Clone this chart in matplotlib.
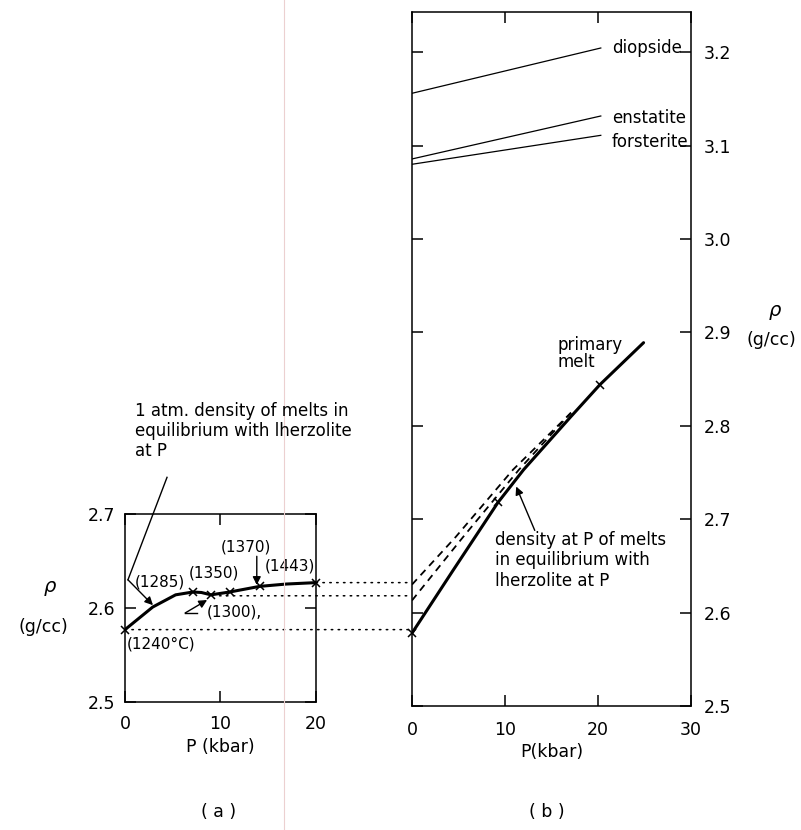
import matplotlib
matplotlib.use('Agg')
import matplotlib.pyplot as plt
from matplotlib.patches import ConnectionPatch
from matplotlib.lines import Line2D
from matplotlib.transforms import blended_transform_factory

plt.rcParams['font.family'] = 'DejaVu Sans'
plt.rcParams['font.size'] = 12

###############################################################
# data
###############################################################
# (a) 1 atm. density of melts in equilibrium with lherzolite at P
p_atm = [0, 2.9, 5.3, 7.1, 8.0, 9.0, 10.95, 14.1, 16.9, 20.0]
rho_atm = [2.577, 2.601, 2.614, 2.617, 2.6165, 2.614, 2.617, 2.623, 2.6255, 2.627]
p_atm_marks = [0, 7.1, 9.0, 10.95, 14.1, 20.0]
rho_atm_marks = [2.577, 2.617, 2.614, 2.617, 2.623, 2.627]

# (b) primary melt, density at P
p_melt = [0, 4.4, 9.25, 12.0, 17.1, 20.2, 24.9]
rho_melt = [2.578, 2.645, 2.718, 2.753, 2.810, 2.844, 2.889]
p_melt_marks = [0, 9.25, 20.2]
rho_melt_marks = [2.578, 2.718, 2.844]

# dashed curves starting from the (1443) and (1300) melts
p_dash_hi = [0, 4.7, 10.86, 17.1]
rho_dash_hi = [2.630, 2.681, 2.753, 2.814]
p_dash_lo = [0, 5.5, 11.5, 17.1]
rho_dash_lo = [2.613, 2.681, 2.753, 2.814]

# minerals
p_min = [0, 20.3]
rho_diopside = [3.156, 3.2045]
rho_enstatite = [3.0857, 3.1317]
rho_forsterite = [3.080, 3.111]

# temperatures along the 1 atm curve
temp_labels = ['(1240°C)', '(1285)', '(1300),', '(1350)', '(1370)', '(1443)']

# melts carried across from (a) to (b): start P in (a), density
link_p = [20.0, 9.9, 0.0]
link_rho = [2.627, 2.613, 2.577]

##################################################
# figure and axes
##################################################
fig = plt.figure(figsize=(8.01, 8.30), dpi=100)
axa = fig.add_axes([125 / 801, 1 - 702 / 830, 191 / 801, 188 / 830])
axb = fig.add_axes([412 / 801, 1 - 706 / 830, 279 / 801, 694 / 830])

lw_axis = 1.1
for ax in (axa, axb):
    for s in ax.spines.values():
        s.set_linewidth(lw_axis)
    ax.tick_params(direction='in', length=8, width=lw_axis, top=True, right=True,
                   labelsize=12.5)

##################################################
# plot (a)
##################################################
axa.set_xlim(0, 20)
axa.set_ylim(2.5, 2.7)
axa.set_xticks([0, 10, 20])
axa.set_yticks([2.5, 2.6, 2.7])
axa.set_yticklabels(['2.5', '2.6', '2.7'])
axa.tick_params(axis='x', pad=9)
axa.tick_params(axis='y', pad=7)
axa.set_xlabel('P (kbar)', fontsize=12.5, labelpad=4)

axa.plot(p_atm, rho_atm, color='black', linewidth=2.2, solid_capstyle='round')
axa.plot(p_atm_marks, rho_atm_marks, linestyle='none', marker='x', color='black',
         markersize=6, markeredgewidth=1.1, clip_on=False)

ann = dict(fontsize=11, color='black')
axa.text(0.2, 2.562, temp_labels[0], ha='left', va='center', **ann)
axa.text(3.66, 2.628, temp_labels[1], ha='center', va='center', **ann)
axa.text(8.6, 2.596, temp_labels[2], ha='left', va='center', **ann)
axa.text(9.3, 2.637, temp_labels[3], ha='center', va='center', **ann)
axa.text(12.7, 2.665, temp_labels[4], ha='center', va='center', **ann)
axa.text(17.3, 2.645, temp_labels[5], ha='center', va='center', **ann)

arrow = dict(arrowstyle='-|>', color='black', lw=1.0, mutation_scale=12,
             shrinkA=0, shrinkB=0)
# leader from the 1 atm. note down to the curve
axa.plot([4.4, 0.31], [2.739, 2.630], color='black', lw=1.0, clip_on=False)
axa.annotate('', xy=(2.93, 2.603), xytext=(0.31, 2.630), arrowprops=arrow)
axa.annotate('', xy=(13.8, 2.6245), xytext=(13.8, 2.655), arrowprops=arrow)
axa.annotate('', xy=(8.6, 2.6085), xytext=(6.3, 2.5947), arrowprops=arrow)
axa.plot([6.3, 7.5], [2.5947, 2.5947], color='black', lw=1.0)

fig.text(135 / 801, 1 - 402 / 830,
         '1 atm. density of melts in\nequilibrium with lherzolite\nat P',
         ha='left', va='top', fontsize=12, linespacing=1.15)

fig.text(50 / 801, 1 - 588 / 830, r'$\rho$', ha='center', va='center', fontsize=14)
fig.text(43 / 801, 1 - 627 / 830, '(g/cc)', ha='center', va='center', fontsize=12.5)

##################################################
# plot (b)
##################################################
axb.set_xlim(0, 30)
axb.set_ylim(2.5, 2.5 + 694 / 934)
axb.set_xticks([0, 10, 20, 30])
axb.set_yticks([2.5, 2.6, 2.7, 2.8, 2.9, 3.0, 3.1, 3.2])
axb.set_yticklabels(['2.5', '2.6', '2.7', '2.8', '2.9', '3.0', '3.1', '3.2'])
axb.tick_params(left=True, labelleft=False, labelright=True)
axb.tick_params(axis='x', pad=11)
axb.tick_params(axis='y', pad=9)
axb.set_xlabel('P(kbar)', fontsize=12.5, labelpad=3)

axb.plot(p_melt, rho_melt, color='black', linewidth=2.2, solid_capstyle='round')
axb.plot(p_melt_marks, rho_melt_marks, linestyle='none', marker='x', color='black',
         markersize=6, markeredgewidth=1.1, clip_on=False)
axb.plot(p_dash_hi, rho_dash_hi, color='black', linewidth=1.3, linestyle=(0, (4, 3)))
axb.plot(p_dash_lo, rho_dash_lo, color='black', linewidth=1.3, linestyle=(0, (4, 3)))

axb.plot(p_min, rho_diopside, color='black', linewidth=0.9)
axb.plot(p_min, rho_enstatite, color='black', linewidth=0.9)
axb.plot(p_min, rho_forsterite, color='black', linewidth=0.9)
axb.text(21.5, 3.204, 'diopside', ha='left', va='center', fontsize=12)
axb.text(21.5, 3.130, 'enstatite', ha='left', va='center', fontsize=12)
axb.text(21.5, 3.104, 'forsterite', ha='left', va='center', fontsize=12)

axb.text(15.6, 2.896, 'primary\nmelt', ha='left', va='top', fontsize=12, linespacing=0.95)
axb.text(8.9, 2.687, 'density at P of melts\nin equilibrium with\nlherzolite at P',
         ha='left', va='top', fontsize=12, linespacing=1.15)
axb.annotate('', xy=(11.2, 2.735), xytext=(13.2, 2.688), arrowprops=arrow)

fig.text(775 / 801, 1 - 312 / 830, r'$\rho$', ha='center', va='center', fontsize=14)
fig.text(771 / 801, 1 - 340 / 830, '(g/cc)', ha='center', va='center', fontsize=12.5)

##################################################
# dotted links between the two panels (kept level)
##################################################
to_b = blended_transform_factory(axb.transAxes, axa.transData)
for p, r in zip(link_p, link_rho):
    con = ConnectionPatch(xyA=(p, r), coordsA=axa.transData, xyB=(0, r), coordsB=to_b,
                          color='black', lw=1.1, linestyle=(0, (1, 3.5)))
    fig.add_artist(con)

##################################################
# panel letters and page crease
##################################################
fig.text(219 / 801, 1 - 812 / 830, '( a )', ha='center', va='center', fontsize=12.5)
fig.text(547 / 801, 1 - 812 / 830, '( b )', ha='center', va='center', fontsize=12.5)
fig.add_artist(Line2D([284 / 801, 284 / 801], [0, 1], transform=fig.transFigure,
                      color='#ecd0d0', lw=0.8))

fig.savefig('out.png', dpi=100)
